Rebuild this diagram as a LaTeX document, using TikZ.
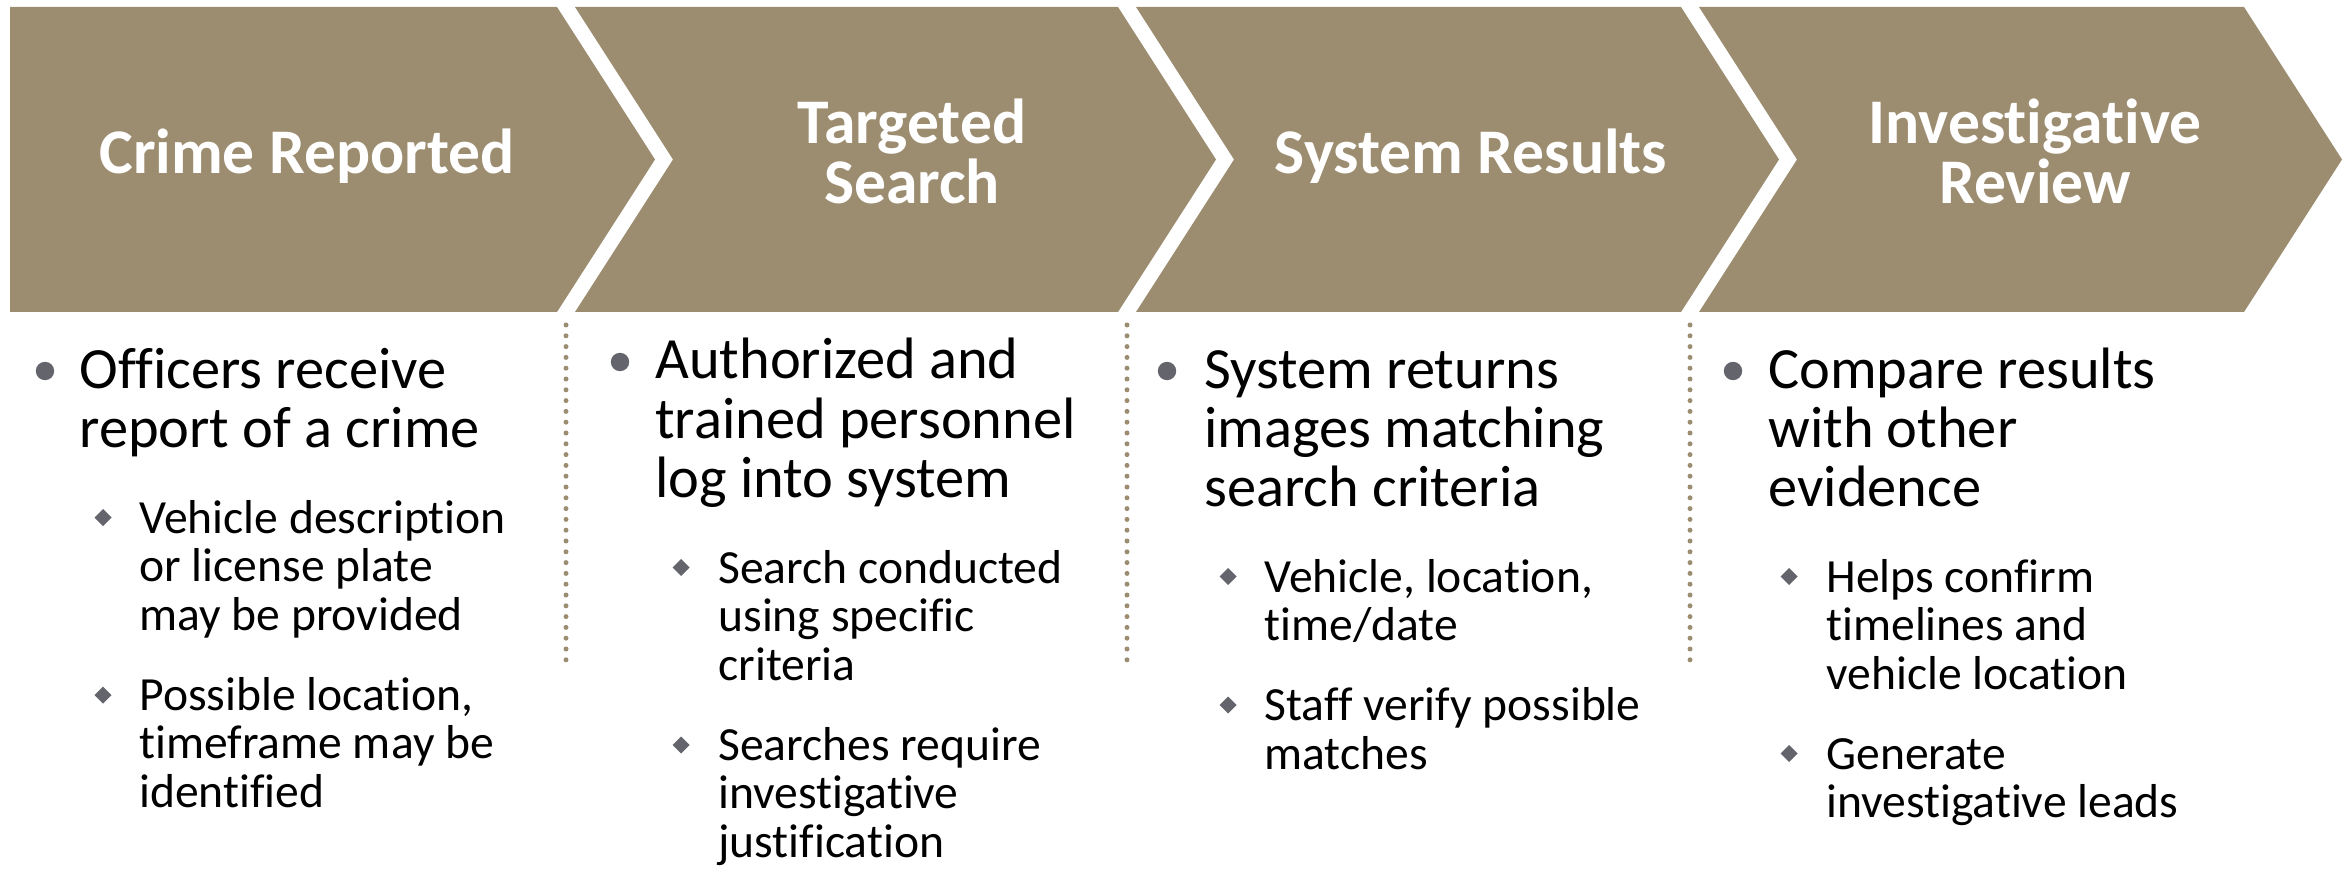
\documentclass[tikz,border=0pt]{standalone}
\usepackage{fontspec}
\setmainfont{Carlito}[Ligatures=NoCommon]
\definecolor{tan}{RGB}{157,141,112}
\definecolor{bul}{RGB}{100,101,108}
\begin{document}
\begin{tikzpicture}[x=0.5pt,y=-0.5pt,
  hdr/.style={anchor=base, inner sep=0pt, text=white, font=\fontsize{31.8}{30}\selectfont\bfseries},
  mtxt/.style={anchor=base west, inner sep=0pt, font=\fontsize{29.2}{29.5}\selectfont},
  stxt/.style={anchor=base west, inner sep=0pt, font=\fontsize{23.8}{24}\selectfont},
  chev/.style={fill=tan, draw=none},
  dots/.style={draw=tan, line width=2.5pt, line cap=round, dash pattern=on 0pt off 5.4pt},
  dot/.pic={\fill[bul] (0,0) circle[radius=4.6pt];},
  dmd/.pic={\fill[bul] (-8.5,0) -- (0,-8.5) -- (8.5,0) -- (0,8.5) -- cycle;}
]
\useasboundingbox (0,0) rectangle (2349,871);
% chevrons
\fill[chev] (10,7) -- (557,7) -- (655,159.5) -- (557,312) -- (10,312) -- cycle;
\fill[chev] (575,7) -- (1118,7) -- (1216,159.5) -- (1118,312) -- (575,312) -- (673,159.5) -- cycle;
\fill[chev] (1136,7) -- (1681,7) -- (1779,159.5) -- (1681,312) -- (1136,312) -- (1234,159.5) -- cycle;
\fill[chev] (1699,7) -- (2244,7) -- (2342,159.5) -- (2244,312) -- (1699,312) -- (1797,159.5) -- cycle;
% headers
\node[hdr] (h1) at (307,174) {Crime Reported};
\node[hdr] (h2a) at (912,144) {Targeted};
\node[hdr] (h2b) at (912,204) {Search};
\node[hdr] (h3) at (1471,174) {System Results};
\node[hdr] (h4a) at (2035,144) {Investigative};
\node[hdr] (h4b) at (2035,204) {Review};
% dividers
\draw[dots] (566,325) -- (566,665);
\draw[dots] (1127,325) -- (1127,665);
\draw[dots] (1690,325) -- (1690,665);
% column 1
\pic at (45,371) {dot};
\node[mtxt] (c1a) at (79,388) {Officers receive};
\node[mtxt] (c1b) at (79,447) {report of a crime};
\pic at (103,517.5) {dmd};
\node[stxt] (c1c) at (139,533) {Vehicle description};
\node[stxt] (c1d) at (139,581.5) {or license plate};
\node[stxt] (c1e) at (139,630) {may be provided};
\pic at (103,695) {dmd};
\node[stxt] (c1f) at (139,710) {Possible location,};
\node[stxt] (c1g) at (139,758.5) {timeframe may be};
\node[stxt] (c1h) at (139,807) {identified};
% column 2
\pic at (620,362) {dot};
\node[mtxt] (c2a) at (655,379) {Authorized and};
\node[mtxt] (c2b) at (655,438) {trained personnel};
\node[mtxt] (c2c) at (655,497) {log into system};
\pic at (681,567.5) {dmd};
\node[stxt] (c2d) at (718,583) {Search conducted};
\node[stxt] (c2e) at (718,631.5) {using specific};
\node[stxt] (c2f) at (718,680) {criteria};
\pic at (681,745) {dmd};
\node[stxt] (c2g) at (718,760) {Searches require};
\node[stxt] (c2h) at (718,808.5) {investigative};
\node[stxt] (c2i) at (718,857) {justification};
% column 3
\pic at (1167,371) {dot};
\node[mtxt] (c3a) at (1204,388) {System returns};
\node[mtxt] (c3b) at (1204,447) {images matching};
\node[mtxt] (c3c) at (1204,506) {search criteria};
\pic at (1228,576.5) {dmd};
\node[stxt] (c3d) at (1264,592) {Vehicle, location,};
\node[stxt] (c3e) at (1264,640.5) {time/date};
\pic at (1228,705) {dmd};
\node[stxt] (c3f) at (1264,720.5) {Staff verify possible};
\node[stxt] (c3g) at (1264,769) {matches};
% column 4
\pic at (1733,371) {dot};
\node[mtxt] (c4a) at (1768,388) {Compare results};
\node[mtxt] (c4b) at (1768,447) {with other};
\node[mtxt] (c4c) at (1768,506) {evidence};
\pic at (1789,576.5) {dmd};
\node[stxt] (c4d) at (1826,592) {Helps confirm};
\node[stxt] (c4e) at (1826,640.5) {timelines and};
\node[stxt] (c4f) at (1826,689) {vehicle location};
\pic at (1789,753.5) {dmd};
\node[stxt] (c4g) at (1826,769) {Generate};
\node[stxt] (c4h) at (1826,817.5) {investigative leads};
\end{tikzpicture}
\end{document}
